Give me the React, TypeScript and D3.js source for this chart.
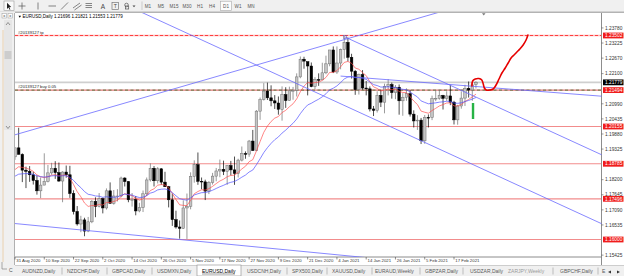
import React from 'react';
import * as d3 from 'd3';

// ---------- DATA ----------
const opens = [
1.1904,1.1937,1.1913,1.1855,1.1851,
1.1838,1.1817,1.1779,1.1800,1.1814,
1.1845,1.1862,1.1846,1.1815,1.1848,
1.1838,1.1769,1.1703,1.1657,1.1672,
1.1631,1.1665,1.1740,1.1722,1.1750,
1.1716,1.1779,1.1733,1.1760,1.1760,
1.1826,1.1813,1.1746,1.1747,1.1705,
1.1717,1.1768,1.1819,1.1862,1.1816,
1.1860,1.1811,1.1794,1.1746,1.1673,
1.1646,1.1641,1.1716,1.1722,1.1832,
1.1875,1.1814,1.1812,1.1778,1.1809,
1.1833,1.1852,1.1858,1.1851,1.1872,
1.1856,1.1843,1.1892,1.1916,1.1914,
1.1962,1.1927,1.2072,1.2114,1.2146,
1.2121,1.2110,1.2102,1.2079,1.2133,
1.2111,1.2147,1.2148,1.2198,1.2263,
1.2254,1.2238,1.2162,1.2188,
1.2187,1.2213,1.2246,1.2297,
1.2216,1.2249,1.2298,1.2325,1.2270,
1.2219,1.2151,1.2206,1.2157,1.2154,
1.2080,1.2075,1.2130,1.2105,1.2163,
1.2170,1.2140,1.2160,1.2110,1.2123,
1.2136,1.2061,1.2036,1.2039,1.1963,
1.2049,1.2048,1.2119,1.2119,1.2130,
1.2119,1.2128,1.2105,1.2040,1.2091,
1.2120,1.2156,1.2150,1.21696
];
const highs = [
1.1938,1.2011,1.1917,1.1868,1.1870,
1.1849,1.1835,1.1828,1.1917,1.1874,
1.1882,1.1888,1.1883,1.1851,1.1872,
1.1871,1.1781,1.1723,1.1687,1.1680,
1.1683,1.1745,1.1755,1.1771,1.1754,
1.1788,1.1810,1.1782,1.1785,1.1831,
1.1829,1.1815,1.1771,1.1760,1.1735,
1.1780,1.1828,1.1880,1.1870,1.1866,
1.1862,1.1849,1.1797,1.1769,1.1706,
1.1670,1.1744,1.1769,1.1847,1.1891,
1.1920,1.1828,1.1820,1.1815,1.1845,
1.1863,1.1894,1.1890,1.1873,1.1889,
1.1905,1.1897,1.1942,1.1924,1.1966,
1.2003,1.2076,1.2122,1.2175,1.2177,
1.2167,1.2131,1.2126,1.2163,1.2160,
1.2162,1.2161,1.2211,1.2273,1.2272,
1.2254,1.2251,1.2197,1.2211,
1.2250,1.2276,1.2297,1.2310,
1.2310,1.2302,1.2349,1.2343,1.2283,
1.2223,1.2210,1.2223,1.2183,1.2163,
1.2091,1.2145,1.2150,1.2173,1.2190,
1.2177,1.2168,1.2170,1.2138,1.2156,
1.2150,1.2075,1.2057,1.2047,1.2058,
1.2060,1.2129,1.2149,1.2150,1.2132,
1.2145,1.2169,1.2110,1.2095,1.2145,
1.2169,1.2181,1.2178,1.21821
];
const lows = [
1.1893,1.1913,1.1811,1.1789,1.1812,
1.1802,1.1765,1.1752,1.1800,1.1810,
1.1838,1.1823,1.1812,1.1737,1.1827,
1.1753,1.1692,1.1651,1.1627,1.1612,
1.1627,1.1660,1.1682,1.1718,1.1696,
1.1710,1.1732,1.1728,1.1740,1.1755,
1.1795,1.1737,1.1721,1.1689,1.1700,
1.1701,1.1760,1.1813,1.1795,1.1806,
1.1801,1.1794,1.1718,1.1650,1.1640,
1.1603,1.1639,1.1602,1.1711,1.1809,
1.1801,1.1785,1.1745,1.1767,1.1802,
1.1814,1.1829,1.1837,1.1801,1.1836,
1.1801,1.1828,1.1887,1.1897,1.1904,
1.1926,1.1925,1.2040,1.2111,1.2113,
1.2090,1.2080,1.2059,1.2037,1.2084,
1.2110,1.2114,1.2126,1.2193,1.2228,
1.2130,1.2160,1.2153,1.2165,
1.2187,1.2208,1.2237,1.2212,
1.2209,1.2226,1.2265,1.2255,1.2192,
1.2132,1.2133,1.2151,1.2130,1.2071,
1.2054,1.2067,1.2087,1.2064,1.2130,
1.2118,1.2116,1.2059,1.2055,1.2110,
1.2052,1.2012,1.2003,1.1951,1.1952,
1.2012,1.2039,1.2109,1.2114,1.2078,
1.2110,1.2094,1.2023,1.2022,1.2081,
1.2091,1.2122,1.2110,1.21553
];
const closes = [
1.1937,1.1913,1.1855,1.1851,1.1838,
1.1817,1.1779,1.1800,1.1814,1.1845,
1.1862,1.1846,1.1815,1.1848,1.1838,
1.1769,1.1703,1.1657,1.1672,1.1631,
1.1665,1.1740,1.1722,1.1750,1.1716,
1.1779,1.1733,1.1760,1.1760,1.1826,
1.1813,1.1746,1.1747,1.1705,1.1717,
1.1768,1.1819,1.1862,1.1816,1.1860,
1.1811,1.1794,1.1746,1.1673,1.1646,
1.1641,1.1716,1.1722,1.1832,1.1875,
1.1814,1.1812,1.1778,1.1809,1.1833,
1.1852,1.1858,1.1851,1.1872,1.1856,
1.1843,1.1892,1.1916,1.1914,1.1962,
1.1927,1.2072,1.2114,1.2146,1.2121,
1.2110,1.2102,1.2079,1.2133,1.2111,
1.2147,1.2148,1.2198,1.2263,1.2256,
1.2238,1.2162,1.2188,1.2187,
1.2213,1.2246,1.2297,1.2216,
1.2249,1.2298,1.2325,1.2270,1.2219,
1.2151,1.2206,1.2157,1.2154,1.2080,
1.2075,1.2130,1.2105,1.2163,1.2170,
1.2140,1.2160,1.2110,1.2123,1.2136,
1.2061,1.2036,1.2039,1.1963,1.2049,
1.2048,1.2119,1.2119,1.2130,1.2119,
1.2128,1.2105,1.2040,1.2091,1.2120,
1.2156,1.2150,1.2169,1.21779
];
// closes before the visible window (moving-average warm-up)
const warmupCloses = [
1.1752,1.1717,1.1791,1.1845,1.1778,
1.1762,1.1799,1.1863,1.1876,1.1786,
1.1737,1.1739,1.1784,1.1812,1.1841,
1.1869,1.1931,1.1835,1.1861,1.1795,
1.1792,1.1834,1.1833,1.1819,1.1904
];
const fastPeriod = 10;
const slowPeriod = 21;

const dateLabels = ["31 Aug 2020","10 Sep 2020","22 Sep 2020","2 Oct 2020","14 Oct 2020","26 Oct 2020","5 Nov 2020","17 Nov 2020","27 Nov 2020","9 Dec 2020","21 Dec 2020","4 Jan 2021","14 Jan 2021","26 Jan 2021","5 Feb 2021","17 Feb 2021"];
const dateLabelBars = [0,8,16,24,32,40,48,56,64,72,80,88,96,104,112,120];

const priceTicks = [1.23780,1.23225,1.22670,1.22100,1.20990,1.20435,1.19880,1.19325,1.18200,1.17645,1.17090,1.16535,1.15425];
const levelLines = [1.20155,1.18785,1.17496,1.16000];
const tpLevel = 1.23502;
const buyLevel = 1.21494;
const bidPrice = 1.21779;
const titleText = "EURUSD,Daily 1.21696 1.21821 1.21553 1.21779";
const tpLabel = "#20139127 tp";
const buyLabel = "#20139127 buy 0.05";

// trendlines: [bar1, price1, bar2, price2, extendLeft]
const trendLines: [number, number, number, number, boolean][] = [
  [0, 1.1985, 90, 1.2335, true],
  [35, 1.2433, 159.4, 1.1664, true],
  [90.2, 1.23447, 160.5, 1.19107, false],
  [0, 1.16587, 91.6, 1.15392, true],
  [89, 1.2201, 159.4, 1.2128, false],
];

// hand-drawn projection path (bar index, price)
const sketchBars = [124.9,125.1,125.8,126.8,127.6,128.0,128.3,128.8,129.8,130.7,131.5,132.3,133.1,134.0,134.8,135.6,136.4,137.2,138.0,138.9,139.7,140.2];
const sketchPrices = [1.21645,1.21829,1.21902,1.21920,1.21865,1.21718,1.21571,1.21498,1.21498,1.21534,1.21681,1.21902,1.22123,1.22307,1.22491,1.22674,1.22785,1.22895,1.23005,1.23153,1.23336,1.23520];
const greenBar = [125.2, 1.21019, 1.20431];

const toolbarFrames = ["M1","M5","M15","M30","H1","H4","D1","W1","MN"];
const activeFrame = "D1";
const tabNames = ["AUDNZD,Daily","NZDCHF,Daily","GBPCAD,Daily","USDMXN,Daily","EURUSD,Daily","USDCNH,Daily","SPX500,Daily","XAUUSD,Daily","EURAUD,Weekly","GBPZAR,Daily","USDZAR,Daily","ZARJPY,Weekly","GBPCHF,Daily","E"];
const activeTab = "EURUSD,Daily";

// ---------- LAYOUT ----------
const W = 624, H = 276;
const PL = 15, PR = 601.5, PT = 13, PB = 257;
const tabX = [22,67,112,157,202,247,292,332,375,425,470,508,560,602];
const tabSepX = [62,107,152,287,327,372,420,463,553,598];
const frameX = [148,161,174,187,200,212,226,238,251];
const FONT = "'Liberation Sans', Arial, sans-serif";

function ema(values: number[], period: number) {
  const k = 2 / (period + 1);
  const out: number[] = [];
  let prev = values[0];
  values.forEach((v, i) => {
    prev = i === 0 ? v : prev + k * (v - prev);
    out.push(prev);
  });
  return out;
}

export default function App() {
  const x = d3.scaleLinear().domain([0, 120]).range([15, 454]);
  const y = d3.scaleLinear().domain([1.16, 1.23502]).range([239.5, 35.5]);

  const all = warmupCloses.concat(closes);
  const fast = ema(all, fastPeriod).slice(warmupCloses.length);
  const slow = ema(all, slowPeriod).slice(warmupCloses.length);
  const maLine = d3.line<number>().x((_, i) => x(i)).y((d) => y(d));

  const sketch = d3.line<number>().x((d) => x(d)).y((_, i) => y(sketchPrices[i])).curve(d3.curveCatmullRom);

  const bw = 2.6;

  const trendPath = (t: [number, number, number, number, boolean]) => {
    const [b1, p1, b2, p2, extL] = t;
    const slope = (p2 - p1) / (b2 - b1);
    const s = extL ? -20 : b1;
    const e = 200;
    return { x1: x(s), y1: y(p1 + slope * (s - b1)), x2: x(e), y2: y(p1 + slope * (e - b1)) };
  };

  const c0 = trendLines[2];

  return (
    <svg width={W} height={H} style={{ position: 'absolute', left: 0, top: 0, background: '#fff' }} fontFamily={FONT}>
      <defs>
        <clipPath id="plot"><rect x={PL} y={PT} width={PR - PL} height={PB - PT} /></clipPath>
      </defs>
      <rect x={0} y={0} width={W} height={H} fill="#fff" />

      {/* toolbar */}
      <rect x={0} y={0} width={W} height={11.5} fill="#f0f0f0" />
      <line x1={0} x2={W} y1={11.5} y2={11.5} stroke="#c8c8c8" strokeWidth={0.8} />
      <rect x={4} y={1} width={10} height={9.5} fill="#fafafa" stroke="#9a9a9a" strokeWidth={0.6} />
      <path d="M7,2.8 L7,9 L8.5,7.6 L9.6,9.8 L10.4,9.4 L9.3,7.2 L11.2,7.1 Z" fill="#222" />
      <g stroke="#555" strokeWidth={0.7} fill="none">
        <line x1={22} x2={22} y1={2.5} y2={9.5} /><line x1={18.5} x2={25.5} y1={6} y2={6} />
        <line x1={38} x2={38} y1={2.5} y2={9.5} />
        <line x1={48.5} x2={56} y1={6} y2={6} />
        <line x1={61} x2={68} y1={9.5} y2={2.5} />
        <line x1={73} x2={80} y1={8} y2={3} /><line x1={74.5} x2={81.5} y1={10} y2={5} />
        <line x1={85.5} x2={92} y1={3.5} y2={3.5} /><line x1={85.5} x2={92} y1={5.5} y2={5.5} /><line x1={85.5} x2={92} y1={7.5} y2={7.5} />
        <rect x={112} y={2.5} width={6.5} height={7} stroke="#777" />
        <circle cx={126.5} cy={5} r={1.8} /><rect x={125.5} y={6} width={3.2} height={3} />
      </g>
      <text x={103} y={8.8} fontSize={6.5} textAnchor="middle" fill="#444">A</text>
      <text x={115.3} y={8.4} fontSize={5.2} textAnchor="middle" fill="#444">T</text>
      <path d="M132.5,5.5 L135.5,5.5 L134,7.3 Z" fill="#444" />
      <line x1={142} x2={142} y1={1.5} y2={10} stroke="#bbb" strokeWidth={0.7} />
      {toolbarFrames.map((f, i) => (
        <g key={f}>
          {f === activeFrame && <rect x={frameX[i] - 5.5} y={1.2} width={11} height={9.3} fill="#fcfcfc" stroke="#a8a8a8" strokeWidth={0.6} />}
          <text x={frameX[i]} y={7.8} fontSize={4.6} textAnchor="middle" fill="#555">{f}</text>
        </g>
      ))}

      {/* left panel */}
      <rect x={0} y={11.5} width={PL} height={H - 11.5} fill="#f0f0f0" />
      <line x1={PL - 0.5} x2={PL - 0.5} y1={PT} y2={265} stroke="#a0a0a0" strokeWidth={0.8} />
      <line x1={3} x2={3} y1={30} y2={262} stroke="#e8c9a0" strokeWidth={0.8} />
      <rect x={2} y={13.5} width={4.5} height={4.5} fill="#fff" stroke="#999" strokeWidth={0.5} />
      <rect x={8} y={13.5} width={4.5} height={4.5} fill="#fff" stroke="#999" strokeWidth={0.5} />
      <text x={4.25} y={17.3} fontSize={4} textAnchor="middle" fill="#333">x</text>
      <text x={10.25} y={17.3} fontSize={4} textAnchor="middle" fill="#333">x</text>
      <rect x={4} y={20} width={8} height={110} fill="#e6e6e6" />
      <path d="M6,25 L8,22.5 L10,25" stroke="#555" strokeWidth={0.6} fill="none" />
      <rect x={4.5} y={51} width={7} height={8} fill="#cdcdcd" />
      <path d="M6,126 L8,128.5 L10,126" stroke="#555" strokeWidth={0.6} fill="none" />
      <path d="M2,262 L2,269 L7,269" stroke="#777" strokeWidth={0.6} fill="none" />
      <text x={9} y={272} fontSize={5} fill="#555">C</text>

      {/* chart frame */}
      <rect x={PL} y={PT} width={PR - PL} height={PB - PT} fill="#fff" />
      <line x1={PL} x2={W} y1={PT - 0.5} y2={PT - 0.5} stroke="#a0a0a0" strokeWidth={0.8} />
      <line x1={PR} x2={PR} y1={PT} y2={265} stroke="#707070" strokeWidth={0.8} />
      <line x1={PL} x2={PR} y1={PB} y2={PB} stroke="#707070" strokeWidth={0.8} />

      <g clipPath="url(#plot)">
        {/* bid line */}
        <line x1={PL} x2={PR} y1={y(bidPrice)} y2={y(bidPrice)} stroke="#cfcfcf" strokeWidth={1.6} />
        {/* horizontal levels */}
        {levelLines.map((p) => (
          <line key={p} x1={PL} x2={PR} y1={y(p)} y2={y(p)} stroke="#f28c8c" strokeWidth={1.2} />
        ))}
        <line x1={PL} x2={PR} y1={y(tpLevel)} y2={y(tpLevel)} stroke="#ffb4b4" strokeWidth={1.6} />
        <line x1={PL} x2={PR} y1={y(tpLevel)} y2={y(tpLevel)} stroke="#ff2020" strokeWidth={0.8} strokeDasharray="3,2" />
        <line x1={PL} x2={PR} y1={y(buyLevel)} y2={y(buyLevel)} stroke="#e07a7a" strokeWidth={1.4} />
        <line x1={PL} x2={PR} y1={y(buyLevel)} y2={y(buyLevel)} stroke="#3c6e2a" strokeWidth={0.8} strokeDasharray="3,2.5" />

        {/* candles */}
        {closes.map((c, i) => {
          const o = opens[i];
          const bull = c >= o;
          const xc = x(i);
          const top = y(Math.max(o, c));
          const h = Math.max(0.7, Math.abs(y(o) - y(c)));
          return (
            <g key={i}>
              <line x1={xc} x2={xc} y1={y(highs[i])} y2={y(lows[i])} stroke={bull ? '#6e6e6e' : '#000'} strokeWidth={0.7} />
              <rect x={xc - bw / 2} y={top} width={bw} height={h} fill={bull ? '#c4c4c4' : '#000'} stroke={bull ? '#707070' : '#000'} strokeWidth={0.5} />
            </g>
          );
        })}

        {/* moving averages */}
        <path d={maLine(fast) || ''} fill="none" stroke="#ff4a4a" strokeOpacity={0.85} strokeWidth={0.8} />
        <path d={maLine(slow) || ''} fill="none" stroke="#4a4aff" strokeOpacity={0.85} strokeWidth={0.8} />

        {/* trendlines */}
        {trendLines.map((t, i) => {
          const p = trendPath(t);
          return <line key={i} {...p} stroke="#6a6aff" strokeWidth={0.8} />;
        })}
        <rect x={x(c0[0]) - 1.5} y={y(c0[1]) - 1.5} width={3} height={3} fill="none" stroke="#5555aa" strokeWidth={0.5} />

        {/* sketch */}
        <path d={sketch(sketchBars) || ''} fill="none" stroke="#e60000" strokeWidth={1.6} strokeLinejoin="round" strokeLinecap="round" />
        <line x1={x(greenBar[0])} x2={x(greenBar[0])} y1={y(greenBar[1])} y2={y(greenBar[2])} stroke="#27b345" strokeWidth={2.4} />
      </g>

      {/* chart shift marker */}
      <path d="M482,13.2 L485.5,13.2 L483.75,15.6 Z" fill="#777" />

      {/* title + order labels */}
      <path d="M18.5,15.7 L21,15.7 L19.75,17.7 Z" fill="#000" />
      <text x={22.5} y={18.4} fontSize={4.5} fill="#000">{titleText}</text>
      <text x={18} y={y(tpLevel) - 1.8} fontSize={4.2} fill="#222">{tpLabel}</text>
      <text x={18} y={y(buyLevel) - 1.8} fontSize={4.2} fill="#222">{buyLabel}</text>

      {/* price axis */}
      {priceTicks.map((p) => (
        <g key={p}>
          <line x1={PR} x2={PR + 2} y1={y(p)} y2={y(p)} stroke="#555" strokeWidth={0.6} />
          <text x={605} y={y(p) + 1.7} fontSize={4.8} fill="#333">{p.toFixed(5)}</text>
        </g>
      ))}
      {[tpLevel, buyLevel, ...levelLines].map((p) => (
        <g key={'b' + p}>
          <rect x={603} y={y(p) - 2.9} width={20.5} height={5.8} fill="#f01c1c" />
          <text x={605} y={y(p) + 1.7} fontSize={4.8} fill="#fff">{p.toFixed(5)}</text>
        </g>
      ))}
      <rect x={603} y={y(bidPrice) - 2.9} width={20.5} height={5.8} fill="#000" />
      <text x={605} y={y(bidPrice) + 1.7} fontSize={4.8} fill="#fff">{bidPrice.toFixed(5)}</text>

      {/* time axis */}
      {dateLabels.map((d, i) => {
        const xx = x(dateLabelBars[i]);
        return (
          <g key={d}>
            <line x1={xx} x2={xx} y1={PB} y2={PB + 2.5} stroke="#444" strokeWidth={0.6} />
            <text x={xx + 1.3} y={262} fontSize={4.3} fill="#333">{d}</text>
          </g>
        );
      })}

      {/* tabs */}
      <rect x={PL} y={265.5} width={W - PL} height={H - 265.5} fill="#f0f0f0" />
      <line x1={PL} x2={W} y1={265.5} y2={265.5} stroke="#b0b0b0" strokeWidth={0.6} />
      {tabNames.map((t, i) => {
        const active = t === activeTab;
        return (
          <g key={t}>
            {active && <rect x={tabX[i] - 5} y={265} width={44} height={11} fill="#fff" stroke="#8a8a8a" strokeWidth={0.6} />}
            <text x={tabX[i]} y={273} fontSize={5} fill={active ? '#000' : (t === 'ZARJPY,Weekly' ? '#9a9a9a' : '#5a5a5a')}>{t}</text>
            {active && <line x1={tabX[i]} x2={tabX[i] + 33} y1={274} y2={274} stroke="#000" strokeWidth={0.4} />}
          </g>
        );
      })}
      {tabSepX.map((sx) => (
        <line key={sx} x1={sx} x2={sx} y1={267.5} y2={274.5} stroke="#9a9a9a" strokeWidth={0.6} />
      ))}
      <path d="M611,270.5 L608,272 L611,273.5 Z" fill="#333" />
      <path d="M617,270.5 L620,272 L617,273.5 Z" fill="#333" />
    </svg>
  );
}
